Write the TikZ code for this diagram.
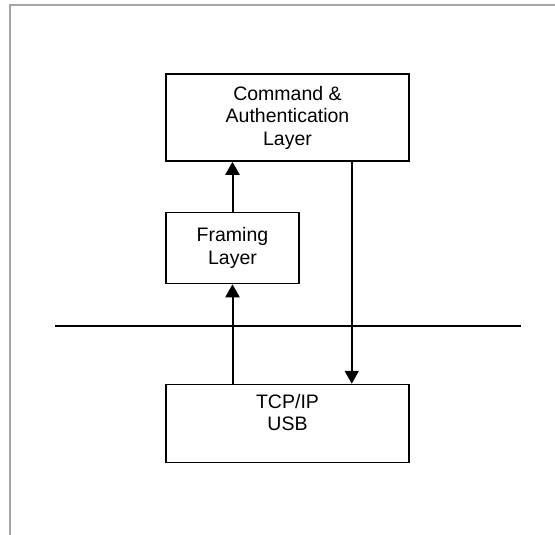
\documentclass[tikz,border=0pt]{standalone}
\usepackage{fontspec}
\setmainfont{Liberation Sans}
\usepackage{tikz}
\usetikzlibrary{positioning,arrows.meta}

\begin{document}
\begin{tikzpicture}[
  x=1pt, y=-1pt,
  font=\fontsize{19.5}{22.5}\selectfont, >={Triangle[length=13pt,width=14pt]},
  blk/.style={draw,line width=1.5pt,align=center,inner sep=0pt},
  flow/.style={->,line width=2pt},
  frm/.style={line width=2pt,draw={rgb,255:red,165;green,165;blue,165}}
]
\useasboundingbox (0,0) rectangle (555,535);
\draw[frm] (9.5,535) -- (9.5,5) -- (555,5);
\node[blk,minimum width=243pt,minimum height=87pt] (cmd) at (287.5,117.5) {Command \&\\Authentication\\Layer};
\node[blk,minimum width=133pt,minimum height=71pt,below right=50pt and 0pt of cmd.south west] (fr) {Framing\\Layer};
\node[blk,minimum width=243pt,minimum height=78pt,text depth=22pt,below=222pt of cmd] (tcp) {TCP/IP\\USB};
\coordinate (busl) at (55,326);
\coordinate (busr) at (521,326);
\draw[line width=2pt] (busl) -- (busr);
\coordinate[xshift=-58pt] (dtop) at (cmd.south east);
\draw[flow] (tcp.north -| fr.south) -- (fr.south);
\draw[flow] (fr.north) -- (cmd.south -| fr.north);
\draw[flow] (dtop) -- (dtop |- tcp.north);
\end{tikzpicture}
\end{document}
